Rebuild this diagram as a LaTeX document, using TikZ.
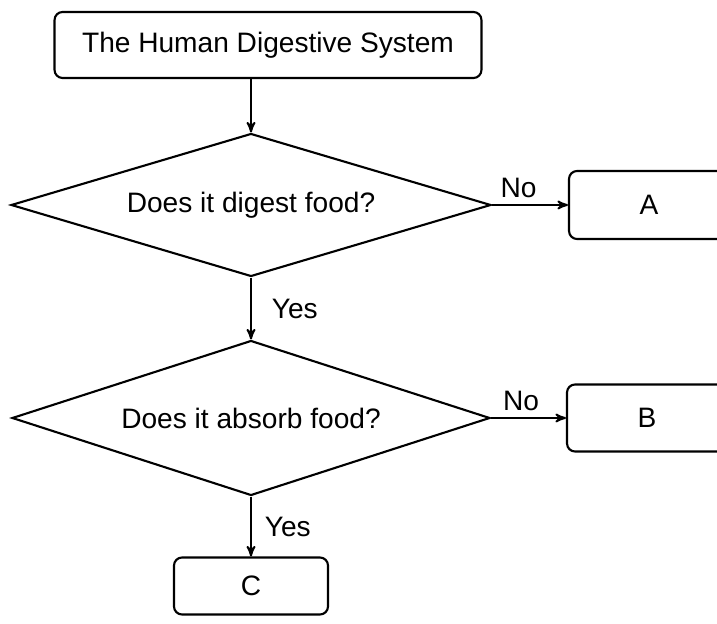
\documentclass[tikz,border=0pt]{standalone}
\usepackage{fontspec}
\setmainfont{Liberation Sans}
\usetikzlibrary{positioning,calc}
\usetikzlibrary{arrows}
\usetikzlibrary{shapes.geometric}

\tikzset{
  box/.style={draw, rounded corners=0.16cm, line width=1.2pt, inner sep=0pt},
  decision/.style={draw, diamond, line width=1.2pt, inner sep=0pt, aspect=3},
  flow/.style={->, line width=1.1pt},
}

\begin{document}
\begin{tikzpicture}[>=stealth', x=0.02cm, y=-0.02cm, font=\fontsize{16}{19}\selectfont]
\useasboundingbox (0,0) rectangle (717,624);
\node [box, minimum width=8.54cm, minimum height=1.32cm] (top) at (268,45) {The Human Digestive System};
\node [decision, minimum width=9.6cm, minimum height=2.86cm] (digest) at (251,205) {Does it digest food?};
\node [decision, minimum width=9.56cm, minimum height=3.1cm] (absorb) at (251,418) {Does it absorb food?};
\node [box, minimum width=3.2cm, minimum height=1.36cm] (a) at (649,205) {A};
\node [box, minimum width=3.2cm, minimum height=1.34cm] (b) at (647,418) {B};
\node [box, minimum width=3.08cm, minimum height=1.14cm] (c) at (251,586) {C};
\draw [flow] (digest.north |- top.south) -- (digest.north);
\draw [flow] (digest.east) -- node [above, pos=.35] {No} (a.west);
\draw [flow] (digest.south) -- node [right=8pt] {Yes} (absorb.north);
\draw [flow] (absorb.east) -- node [above, pos=.4] {No} (b.west);
\draw [flow] (absorb.south) -- node [right=4pt] {Yes} (c.north);
\end{tikzpicture}
\end{document}
